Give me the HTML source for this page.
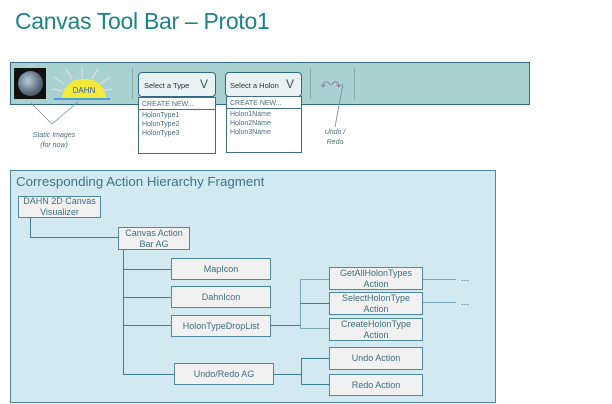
<!DOCTYPE html>
<html><head><style>
body{margin:0;width:612px;height:404px;background:#fff;position:relative;overflow:hidden;font-family:"Liberation Sans",sans-serif}
.a{position:absolute;box-sizing:border-box}
.n{position:absolute;box-sizing:border-box;background:#f1f1f1;border:1.5px solid #4f8a9c;color:#3d6f7e;font-size:9px;text-align:center;display:flex;align-items:center;justify-content:center;line-height:11px}
.l{position:absolute;background:#3f7f92}
.dd{position:absolute;box-sizing:border-box;background:#fff;border:1px solid #3f6f80;font-size:7px;color:#4a7080;line-height:9px}
</style></head><body>
<div class="a" style="left:15px;top:8px;font-size:23px;color:#1b8585;letter-spacing:-0.3px">Canvas Tool Bar – Proto1</div>

<div class="a" style="left:10px;top:62px;width:520px;height:43px;background:#a9d1d2;border:1.5px solid #2f6a82"></div>
<div class="a" style="left:14px;top:68px;width:32px;height:31px;background:#111"></div>
<div class="a" style="left:18px;top:71px;width:25px;height:25px;border-radius:50%;background:radial-gradient(circle at 40% 40%,#bcd,#567 60%,#345)"></div>
<svg class="a" style="left:50px;top:64px" width="64" height="36"><g stroke="#d8dede" stroke-width="1.3"><line x1="32" y1="14" x2="32" y2="3"/><line x1="22" y1="15" x2="16" y2="5"/><line x1="42" y1="15" x2="48" y2="5"/><line x1="14" y1="20" x2="4" y2="13"/><line x1="50" y1="20" x2="60" y2="13"/><line x1="12" y1="27" x2="2" y2="25"/><line x1="52" y1="27" x2="62" y2="25"/></g></svg>
<div class="a" style="left:62px;top:79px;width:44px;height:20px;border-radius:22px 22px 0 0;background:#f3ea3a;font-size:8px;color:#2f5fb0;text-align:center;padding-top:7px">DAHN</div>
<div class="a" style="left:54px;top:98px;width:56px;height:2px;background:#4aa0d8"></div>
<div class="a" style="left:132px;top:68px;width:1px;height:31px;background:#8aa"></div>
<div class="a" style="left:310px;top:68px;width:1px;height:31px;background:#8aa"></div>
<div class="a" style="left:354px;top:68px;width:1px;height:31px;background:#8aa"></div>

<div class="a" style="left:138px;top:72px;width:78px;height:25px;background:#e9f3f3;border:1.5px solid #2f6a82;border-radius:4px;font-size:7.5px;color:#234;padding:8px 0 0 5px">Select a Type<span style="position:absolute;right:7px;top:4px;font-size:12px;color:#355">V</span></div>
<div class="dd" style="left:138px;top:97px;width:78px;height:57px;padding:2px 0 0 3px"><div style="border-bottom:1px solid #3f6f80;margin:0 0 1px -3px;padding-left:3px">CREATE NEW...</div>HolonType1<br>HolonType2<br>HolonType3</div>
<div class="a" style="left:225px;top:72px;width:77px;height:25px;background:#e9f3f3;border:1.5px solid #2f6a82;border-radius:4px;font-size:7.5px;color:#234;padding:8px 0 0 4px">Select a Holon<span style="position:absolute;right:7px;top:4px;font-size:12px;color:#355">V</span></div>
<div class="dd" style="left:226px;top:96px;width:76px;height:57px;padding:2px 0 0 3px"><div style="border-bottom:1px solid #3f6f80;margin:0 0 1px -3px;padding-left:3px">CREATE NEW...</div>Holon1Name<br>Holon2Name<br>Holon3Name</div>
<div class="a" style="left:320px;top:78px;font-size:13px;color:#889">&#8630;&#8631;</div>

<svg class="a" style="left:0;top:0" width="612" height="404"><g stroke="#6a8f99" stroke-width="0.8" fill="none">
<line x1="31" y1="103" x2="52" y2="124"/><line x1="52" y1="124" x2="78" y2="102"/><line x1="343" y1="84" x2="335" y2="127"/></g></svg>
<div class="a" style="left:20px;top:131px;width:68px;font-size:7px;font-style:italic;color:#4a7080;text-align:center;line-height:10px">Static Images<br>(for now)</div>
<div class="a" style="left:318px;top:128px;width:34px;font-size:7px;font-style:italic;color:#4a7080;text-align:center;line-height:10px">Undo /<br>Redo</div>

<div class="a" style="left:10px;top:170px;width:486px;height:233px;background:#d3e9f1;border:1.5px solid #4a88a0"></div>
<div class="a" style="left:16px;top:174px;font-size:13.3px;color:#3b7585">Corresponding Action Hierarchy Fragment</div>

<div class="l" style="left:30px;top:217px;width:1px;height:21px"></div>
<div class="l" style="left:30px;top:237px;width:88px;height:1px"></div>
<div class="l" style="left:123px;top:249px;width:1px;height:125px"></div>
<div class="l" style="left:123px;top:269px;width:48px;height:1px"></div>
<div class="l" style="left:123px;top:297px;width:48px;height:1px"></div>
<div class="l" style="left:123px;top:325px;width:48px;height:1px"></div>
<div class="l" style="left:123px;top:374px;width:51px;height:1px"></div>
<div class="l" style="left:271px;top:325px;width:29px;height:1px"></div>
<div class="l" style="left:300px;top:279px;width:1px;height:50px;background:#7aa9b8"></div>
<div class="l" style="left:300px;top:279px;width:29px;height:1px;background:#7aa9b8"></div>
<div class="l" style="left:300px;top:303px;width:29px;height:1px"></div>
<div class="l" style="left:300px;top:328px;width:29px;height:1px;background:#7aa9b8"></div>
<div class="l" style="left:274px;top:374px;width:27px;height:1px"></div>
<div class="l" style="left:301px;top:358px;width:1px;height:27px"></div>
<div class="l" style="left:301px;top:358px;width:28px;height:1px"></div>
<div class="l" style="left:301px;top:384px;width:28px;height:1px"></div>
<div class="l" style="left:422px;top:279px;width:34px;height:1px;background:#7aa9b8"></div>
<div class="l" style="left:422px;top:302px;width:34px;height:1px;background:#7aa9b8"></div>
<div class="a" style="left:461px;top:273px;font-size:10px;color:#555">...</div>
<div class="a" style="left:461px;top:297px;font-size:10px;color:#555">...</div>

<div class="n" style="left:18px;top:196px;width:83px;height:22px">DAHN 2D Canvas<br>Visualizer</div>
<div class="n" style="left:118px;top:227px;width:72px;height:23px">Canvas Action<br>Bar AG</div>
<div class="n" style="left:171px;top:258px;width:100px;height:22px">MapIcon</div>
<div class="n" style="left:171px;top:286px;width:100px;height:22px">DahnIcon</div>
<div class="n" style="left:171px;top:315px;width:100px;height:22px">HolonTypeDropList</div>
<div class="n" style="left:174px;top:363px;width:100px;height:22px">Undo/Redo AG</div>
<div class="n" style="left:329px;top:267px;width:94px;height:23px">GetAllHolonTypes<br>Action</div>
<div class="n" style="left:329px;top:292px;width:94px;height:23px">SelectHolonType<br>Action</div>
<div class="n" style="left:329px;top:318px;width:94px;height:23px">CreateHolonType<br>Action</div>
<div class="n" style="left:329px;top:347px;width:94px;height:23px">Undo Action</div>
<div class="n" style="left:329px;top:374px;width:94px;height:22px">Redo Action</div>
</body></html>
